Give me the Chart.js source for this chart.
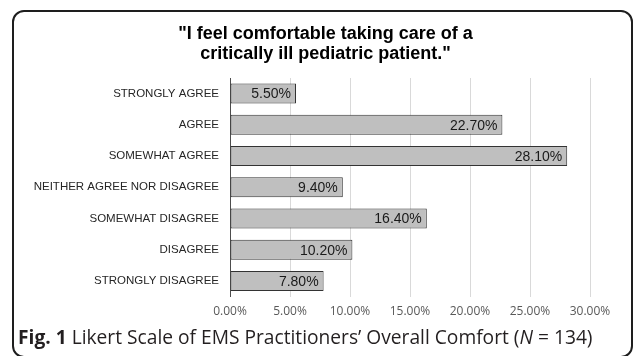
<!DOCTYPE html>
<html>
<head>
<meta charset="utf-8">
<script src="https://cdn.jsdelivr.net/npm/chart.js@4/dist/chart.umd.min.js"></script>
<style>
    body { margin: 0; background: #fff; }
    #wrap { position: relative; width: 634px; height: 356px; overflow: hidden; }
    #frame {
        position: absolute; left: 12px; top: 10px;
        width: 617px; height: 344px;
        border: 2px solid #1e1e1e; border-radius: 12px;
    }
    #chart { position: absolute; left: 0; top: 0; }
    #title {
        position: absolute; left: 0; top: 23px; width: 651px;
        text-align: center; color: #000;
        font: bold 18px "Liberation Sans", Arial, sans-serif; line-height: 20px;
    }
    #caption {
        position: absolute; left: 18px; top: 326px;
        font: 19.2px "Open Sans", sans-serif; line-height: 22px;
        color: #231f20; white-space: nowrap;
    }
    #caption b { font-weight: 700; }
</style>
</head>
<body>
<div id="wrap">
    <div id="frame"></div>
    <canvas id="chart" width="634" height="356"></canvas>
    <div id="title"></div>
    <div id="caption"><b>Fig. 1</b> Likert Scale of EMS Practitioners’ Overall Comfort (<i>N</i> = 134)</div>
</div>
<script>
const titleLines = ['"I feel comfortable taking care of a', 'critically ill pediatric patient."']
const categories = [
    'STRONGLY AGREE',
    'AGREE',
    'SOMEWHAT AGREE',
    'NEITHER AGREE NOR DISAGREE',
    'SOMEWHAT DISAGREE',
    'DISAGREE',
    'STRONGLY DISAGREE'
]
const percentages = [5.5, 22.7, 28.1, 9.4, 16.4, 10.2, 7.8]
const xTicks = [0, 5, 10, 15, 20, 25, 30]

const titleBox = document.getElementById('title')
titleLines.forEach((line, i) => {
    if (i > 0) titleBox.appendChild(document.createElement('br'))
    titleBox.appendChild(document.createTextNode(line))
})

// value labels drawn inside the end of each bar
const barLabels = {
    id: 'barLabels',
    afterDatasetsDraw(chart) {
        const ctx = chart.ctx
        const meta = chart.getDatasetMeta(0)
        ctx.save()
        ctx.font = '14px "Liberation Sans", Arial, sans-serif'
        ctx.fillStyle = '#1a1a1a'
        ctx.textAlign = 'right'
        ctx.textBaseline = 'middle'
        meta.data.forEach((bar, i) => {
            ctx.fillText(percentages[i].toFixed(2) + '%', bar.x - 5, bar.y + 1)
        })
        ctx.restore()
    }
}

new Chart(document.getElementById('chart').getContext('2d'), {
    type: 'bar',
    data: {
        labels: categories,
        datasets: [{
            data: percentages,
            backgroundColor: '#bfbfbf',
            borderColor: '#333333',
            borderWidth: 1,
            borderSkipped: false,
            categoryPercentage: 1,
            barPercentage: 0.64
        }]
    },
    options: {
        indexAxis: 'y',
        responsive: false,
        animation: false,
        devicePixelRatio: 1,
        layout: { padding: { left: 0, right: 44, top: 78, bottom: 29 } },
        plugins: {
            legend: { display: false },
            tooltip: { enabled: false },
            title: { display: false }
        },
        scales: {
            x: {
                min: 0,
                max: 30,
                afterBuildTicks: scale => { scale.ticks = xTicks.map(v => ({ value: v })) },
                grid: { color: '#d9d9d9', drawTicks: false },
                border: { display: false },
                ticks: {
                    padding: 8,
                    color: '#595959',
                    font: { family: '"Open Sans", sans-serif', size: 12 },
                    callback: v => v.toFixed(2) + '%'
                }
            },
            y: {
                afterFit: scale => { scale.width = 230 },
                grid: { display: false, drawTicks: false },
                border: { display: true, color: '#4d4d4d', width: 1 },
                ticks: {
                    padding: 11,
                    color: '#262626',
                    font: { family: '"Liberation Sans", Arial, sans-serif', size: 11.5 }
                }
            }
        }
    },
    plugins: [barLabels]
})
</script>
</body>
</html>
